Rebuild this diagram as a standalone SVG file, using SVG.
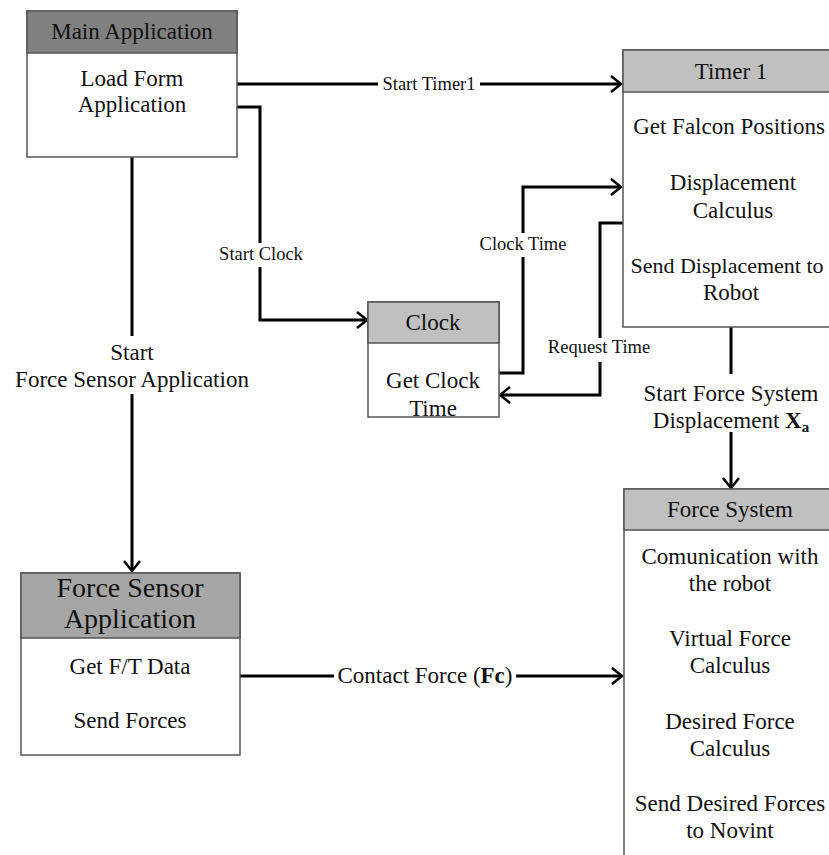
<svg xmlns="http://www.w3.org/2000/svg" width="829" height="855" viewBox="0 0 829 855">
  <style>
    .box { fill: #ffffff; stroke: #555555; stroke-width: 1.5; }
    .hdr { stroke: #555555; stroke-width: 1.5; }
    .dark { fill: #808080; }
    .mid { fill: #a6a6a6; }
    .light { fill: #c0c0c0; }
    text { font-family: "Liberation Serif", "Times New Roman", serif; fill: #111111; text-anchor: middle; }
    .t23 { font-size: 23px; }
    .t28 { font-size: 28px; }
    .t18 { font-size: 18.5px; }
    .wire { fill: none; stroke: #000000; stroke-width: 3; }
    .bg { fill: #ffffff; }
  </style>
  <defs>
    <marker id="arrow" markerUnits="userSpaceOnUse" markerWidth="14" markerHeight="20" refX="11" refY="10" orient="auto">
      <path d="M1,2 L11,10 L1,18" fill="none" stroke="#000000" stroke-width="2.5"/>
    </marker>
  </defs>

  <rect width="829" height="855" fill="#ffffff"/>

  <!-- connectors -->
  <g id="connectors">
    <path class="wire" d="M237,84 H621" marker-end="url(#arrow)"/>
    <path class="wire" d="M237,107 H260 V320 H367" marker-end="url(#arrow)"/>
    <path class="wire" d="M132,157 V571" marker-end="url(#arrow)"/>
    <path class="wire" d="M499,373 H523 V187 H621" marker-end="url(#arrow)"/>
    <path class="wire" d="M623,223 H600 V395 H500" marker-end="url(#arrow)"/>
    <path class="wire" d="M731,327 V488" marker-end="url(#arrow)"/>
    <path class="wire" d="M240,676 H622" marker-end="url(#arrow)"/>

    <!-- label backgrounds -->
    <rect class="bg" x="378" y="74" width="102" height="20"/>
    <rect class="bg" x="216" y="243" width="90" height="24"/>
    <rect class="bg" x="476" y="233" width="94" height="24"/>
    <rect class="bg" x="543" y="338" width="112" height="24"/>
    <rect class="bg" x="8" y="336" width="248" height="58"/>
    <rect class="bg" x="636" y="374" width="190" height="58"/>
    <rect class="bg" x="334" y="664" width="182" height="26"/>

    <text class="t18" x="429" y="90">Start Timer1</text>
    <text class="t18" x="261" y="260">Start Clock</text>
    <text class="t18" x="523" y="250">Clock Time</text>
    <text class="t18" x="599" y="353">Request Time</text>
    <text class="t23" x="132" y="360">Start</text>
    <text class="t23" x="132" y="387">Force Sensor Application</text>
    <text class="t23" x="731" y="401">Start Force System</text>
    <text class="t23" x="731" y="428">Displacement <tspan font-weight="bold">X</tspan><tspan font-weight="bold" font-size="15px" dy="4">a</tspan></text>
    <text class="t23" x="425" y="683">Contact Force (<tspan font-weight="bold">Fc</tspan>)</text>
  </g>

  <!-- Main Application -->
  <g id="main-application">
    <rect class="box" x="27" y="11" width="210" height="146"/>
    <rect class="hdr dark" x="27" y="11" width="210" height="42"/>
    <text class="t23" x="132" y="39">Main Application</text>
    <text class="t23" x="132" y="86">Load Form</text>
    <text class="t23" x="132" y="112">Application</text>
  </g>

  <!-- Timer 1 -->
  <g id="timer-1">
    <rect class="box" x="623" y="50" width="220" height="277"/>
    <rect class="hdr light" x="623" y="50" width="220" height="42"/>
    <text class="t23" x="731" y="79">Timer 1</text>
    <text class="t23" x="729" y="134">Get Falcon Positions</text>
    <text class="t23" x="733" y="190">Displacement</text>
    <text class="t23" x="733" y="218">Calculus</text>
    <text x="727" y="273" font-size="22px">Send Displacement to</text>
    <text class="t23" x="731" y="300">Robot</text>
  </g>

  <!-- Clock -->
  <g id="clock">
    <rect class="box" x="368" y="302" width="131" height="115"/>
    <rect class="hdr light" x="368" y="302" width="131" height="41"/>
    <text class="t23" x="433" y="330">Clock</text>
    <text class="t23" x="433" y="388">Get Clock</text>
    <text class="t23" x="433" y="416">Time</text>
  </g>

  <!-- Force Sensor Application -->
  <g id="force-sensor-application">
    <rect class="box" x="21" y="573" width="219" height="182"/>
    <rect class="hdr mid" x="21" y="573" width="219" height="65"/>
    <text class="t28" x="130" y="597">Force Sensor</text>
    <text class="t28" x="130" y="628">Application</text>
    <text class="t23" x="130" y="674">Get F/T Data</text>
    <text class="t23" x="130" y="728">Send Forces</text>
  </g>

  <!-- Force System -->
  <g id="force-system">
    <rect class="box" x="624" y="489" width="220" height="390"/>
    <rect class="hdr light" x="624" y="489" width="220" height="41"/>
    <text class="t23" x="730" y="517">Force System</text>
    <text class="t23" x="730" y="564">Comunication with</text>
    <text class="t23" x="730" y="591">the robot</text>
    <text class="t23" x="730" y="646">Virtual Force</text>
    <text class="t23" x="730" y="673">Calculus</text>
    <text class="t23" x="730" y="729">Desired Force</text>
    <text class="t23" x="730" y="756">Calculus</text>
    <text class="t23" x="730" y="811">Send Desired Forces</text>
    <text class="t23" x="730" y="838">to Novint</text>
  </g>
</svg>
